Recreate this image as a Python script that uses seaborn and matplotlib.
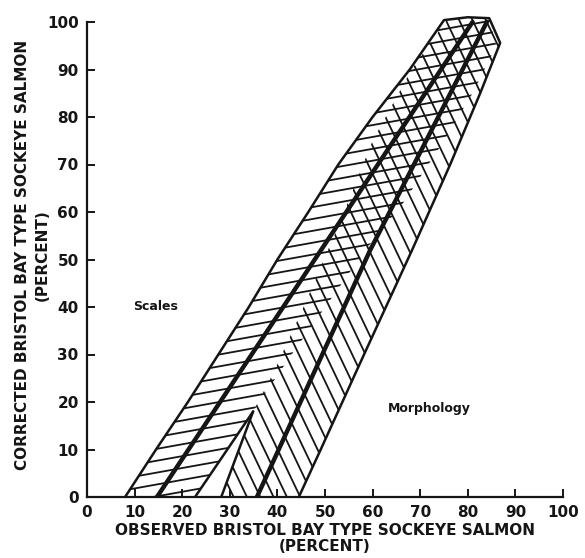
import numpy as np
import matplotlib
matplotlib.use("Agg")
import matplotlib.pyplot as plt
import seaborn as sns
from matplotlib.patches import Polygon
from matplotlib.collections import LineCollection

sns.set_theme(style="ticks")
plt.rcParams['font.family'] = ['DejaVu Sans']

# ---- data (percent) ----
scales_left_y = [0, 10, 20, 30, 40, 50, 60, 70, 80, 90, 100.4]
scales_left_x = [8, 14.5, 21.2, 27.6, 34, 40, 46.5, 52.8, 60, 67.8, 75]
scales_right_y = [0, 18, 30, 52, 62, 75, 85, 95]
scales_right_x = [22.7, 34.9, 43, 58.5, 66.5, 75, 81, 86]

morph_left_y = [0, 18, 26, 40, 58, 75, 90, 100.3]
morph_left_x = [28.2, 34.9, 39.1, 45.5, 53.2, 60, 68.2, 75.5]
morph_right_y = [0, 10, 30, 52, 70, 85, 95.6]
morph_right_x = [44.5, 49.1, 58.2, 68.3, 76.3, 82.6, 86.8]

cap_x = [80, 84.5]
cap_y = [101, 100.8]

scales_center_x = [14.7, 81]
scales_center_y = [0, 100]
morph_center_x = [35.7, 59.5, 84]
morph_center_y = [0, 52, 100]

ticks = [0, 10, 20, 30, 40, 50, 60, 70, 80, 90, 100]
xlabel = "OBSERVED BRISTOL BAY TYPE SOCKEYE SALMON\n(PERCENT)"
ylabel = "CORRECTED BRISTOL BAY TYPE SOCKEYE SALMON\n(PERCENT)"

INK = "#151515"

fig = plt.figure(figsize=(5.85, 5.58), dpi=100)
ax = fig.add_axes([87 / 585, 61 / 558, 476 / 585, (497 - 12.5) / 558])
ax.set_xlim(0, 100)
ax.set_ylim(0, 102)


def band(lx, ly, rx, ry):
    pts = list(zip(lx, ly)) + list(zip(cap_x, cap_y)) + list(zip(rx, ry))[::-1]
    return np.array(pts)


scales_poly = band(scales_left_x, scales_left_y, scales_right_x, scales_right_y)
morph_poly = band(morph_left_x, morph_left_y, morph_right_x, morph_right_y)


def hatch(poly, slope, spacing, start, stop):
    patch = Polygon(poly, closed=True, facecolor="none", edgecolor="none",
                    clip_on=False, zorder=3)
    ax.add_patch(patch)
    segs = []
    for c in np.arange(start, stop, spacing):
        if abs(slope) < 1:
            xs = np.array([-20, 130])
            segs.append(np.column_stack([xs, c + slope * xs]))
        else:
            ys = np.array([-20, 130])
            segs.append(np.column_stack([c + ys / slope, ys]))
    lc = LineCollection(segs, colors=INK, linewidths=1.3, zorder=2)
    ax.add_collection(lc)
    lc.set_clip_path(patch)


# Scales: nearly horizontal hatch rising to the right
hatch(scales_poly, 0.18, 2.5, -30, 110)
# Morphology: steep hatch falling to the right
hatch(morph_poly, -2.1, 2.8, 0, 160)

# outer outline: scales left edge, top cap, morphology right edge
outline_x = list(scales_left_x) + cap_x + list(morph_right_x)[::-1]
outline_y = list(scales_left_y) + cap_y + list(morph_right_y)[::-1]
ax.plot(outline_x, outline_y, color=INK, lw=1.8, solid_joinstyle="round",
        clip_on=False, zorder=3)
# inner lower edges up to where they meet
ax.plot(scales_right_x[:2], scales_right_y[:2], color=INK, lw=1.8, zorder=3)
ax.plot(morph_left_x[:2], morph_left_y[:2], color=INK, lw=1.8, zorder=3)

sns.lineplot(x=scales_center_x, y=scales_center_y, color=INK, lw=3.2, ax=ax,
             sort=False, zorder=4)
sns.lineplot(x=morph_center_x, y=morph_center_y, color=INK, lw=3.2, ax=ax,
             sort=False, zorder=4)

ax.text(9.7, 40.2, "Scales", fontsize=9, fontweight="bold", color=INK,
        ha="left", va="center")
ax.text(72, 18.7, "Morphology", fontsize=9, fontweight="bold", color=INK,
        ha="center", va="center")

sns.despine(ax=ax)
ax.spines["left"].set_bounds(0, 100)
ax.spines["bottom"].set_bounds(0, 100)
for s in ("left", "bottom"):
    ax.spines[s].set_linewidth(1.6)
    ax.spines[s].set_color(INK)
ax.set_xticks(ticks)
ax.set_yticks(ticks)
ax.set_xticklabels([str(t) for t in ticks], fontweight="bold")
ax.set_yticklabels([str(t) for t in ticks], fontweight="bold")
ax.tick_params(axis="both", direction="in", length=6, width=1.4, colors=INK,
               labelsize=11, pad=6)
ax.set_xlabel(xlabel, fontsize=11, fontweight="bold", color=INK,
              linespacing=1.1, labelpad=2)
ax.set_ylabel(ylabel, fontsize=11, fontweight="bold", color=INK,
              linespacing=1.35, labelpad=-2)

fig.savefig("out.png", dpi=100, facecolor="white")
